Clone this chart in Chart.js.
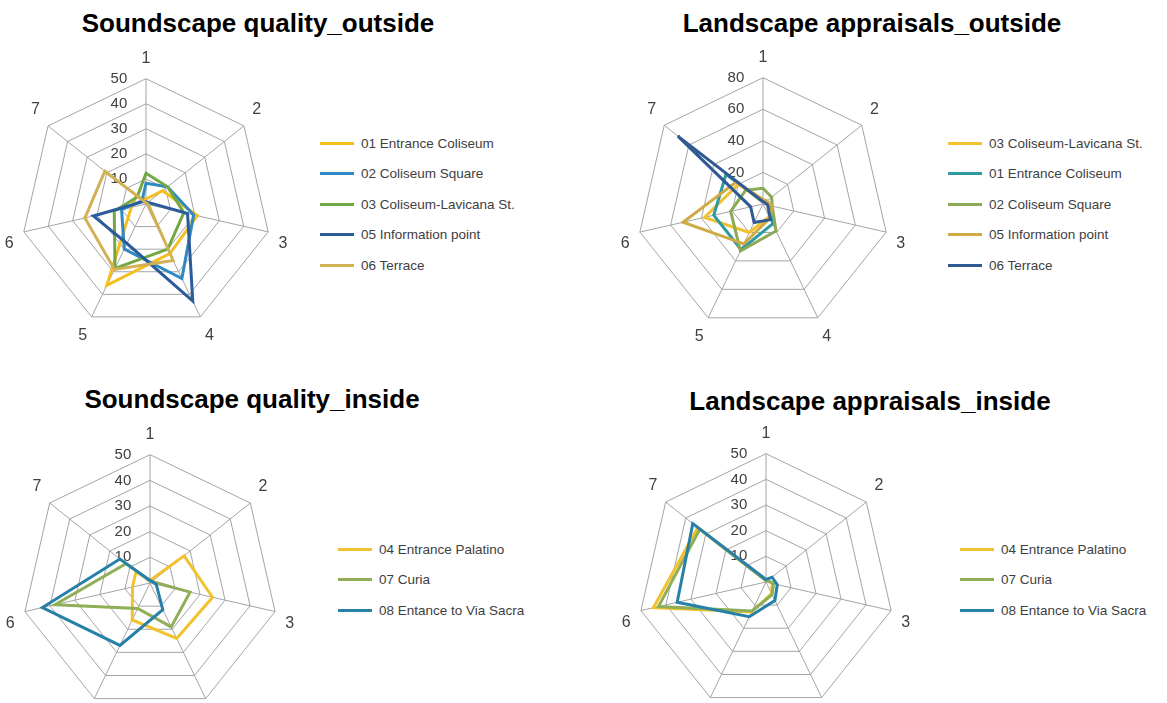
<!DOCTYPE html>
<html>
<head>
<meta charset="utf-8">
<script src="https://cdn.jsdelivr.net/npm/chart.js@4.4.1/dist/chart.umd.min.js"></script>
<style>
  html, body { margin: 0; padding: 0; background: #fff; }
  body { width: 1167px; height: 703px; position: relative; overflow: hidden; font-family: "Liberation Sans", Arial, sans-serif; }
  .title { position: absolute; font-weight: bold; font-size: 26px; color: #000; white-space: nowrap; transform: translateX(-50%); }
  .chart { position: absolute; }
  .legend { position: absolute; font-size: 13.5px; color: #404040; }
  .legend .item { position: absolute; white-space: nowrap; display: flex; align-items: center; height: 20px; }
  .legend .swatch { display: inline-block; width: 34px; height: 3px; margin-right: 7px; }
</style>
</head>
<body>

<div class="title" style="left:258px; top:8px;">Soundscape quality_outside</div>
<div class="title" style="left:872px; top:8px;">Landscape appraisals_outside</div>
<div class="title" style="left:252px; top:384px;">Soundscape quality_inside</div>
<div class="title" style="left:870px; top:386px;">Landscape appraisals_inside</div>

<canvas id="sqOut" class="chart" width="310" height="310" style="left:-8.5px; top:42.5px;"></canvas>
<canvas id="laOut" class="chart" width="312" height="312" style="left:608px; top:42px;"></canvas>
<canvas id="sqIn" class="chart" width="316" height="316" style="left:-8.5px; top:418px;"></canvas>
<canvas id="laIn" class="chart" width="316" height="316" style="left:608px; top:417px;"></canvas>

<div id="legSqOut" class="legend" style="left:320px; top:133px;"></div>
<div id="legLaOut" class="legend" style="left:948px; top:133px;"></div>
<div id="legSqIn" class="legend" style="left:338px; top:539px;"></div>
<div id="legLaIn" class="legend" style="left:960px; top:539px;"></div>

<script>
const axisLabels = ['1', '2', '3', '4', '5', '6', '7'];

// Soundscape quality_outside
const sqOutNames = ['01 Entrance Coliseum', '02 Coliseum Square', '03 Coliseum-Lavicana St.', '05 Information point', '06 Terrace'];
const sqOutEntranceColiseum = [2, 8.5, 21, 22, 36, 6, 5];
const sqOutColiseumSquare = [8.3, 11, 19.5, 33, 20, 10, 2];
const sqOutLavicana = [12.3, 11, 15.5, 20, 28.5, 13, 4.5];
const sqOutInfoPoint = [1, 1, 17, 43, 17.5, 21.5, 1.5];
const sqOutTerrace = [0.5, 0.5, 1, 25, 29, 25, 21];
const sqOutColors = ['#F4BE1E', '#2F8AC4', '#72A843', '#2A5C9C', '#D2B154'];

// Landscape appraisals_outside
const laOutNames = ['03 Coliseum-Lavicana St.', '01 Entrance Coliseum', '02 Coliseum Square', '05 Information point', '06 Terrace'];
const laOutLavicana = [2, 2, 4, 9, 20, 38, 20];
const laOutEntranceColiseum = [2, 3, 5, 14, 32, 32, 30];
const laOutColiseumSquare = [10, 7, 6, 19, 33, 21, 14];
const laOutInfoPoint = [3, 3, 6, 10, 28, 52, 22];
const laOutTerrace = [1.5, 1.5, 3, 11, 13, 8, 69];
const laOutColors = ['#F2C12E', '#2E9AA3', '#8BAA55', '#CFAA45', '#2F5A94'];

// Soundscape quality_inside
const sqInNames = ['04 Entrance Palatino', '07 Curia', '08 Entance to Via Sacra'];
const sqInPalatino = [1, 17, 25, 24, 16, 7, 7];
const sqInCuria = [1, 1, 16, 19, 11, 38, 12];
const sqInViaSacra = [1, 1, 2.5, 11.5, 27, 43, 15];

// Landscape appraisals_inside
const laInNames = ['04 Entrance Palatino', '07 Curia', '08 Entance to Via Sacra'];
const laInPalatino = [0.5, 1, 2.5, 5, 13, 45, 34];
const laInCuria = [0.5, 1, 3, 5.5, 12.5, 43, 33];
const laInViaSacra = [1, 3, 4.5, 8, 15, 35.5, 36.5];
const insideColors = ['#F2C12E', '#8FAE57', '#2680A8'];

const FONT = 'Liberation Sans';

function makeRadar(id, names, series, colors, max, step) {
  const n = series.length;
  const datasets = series.map((data, i) => ({
    label: names[i],
    data,
    borderColor: colors[i],
    backgroundColor: colors[i],
    borderWidth: 3,
    fill: false,
    pointRadius: 0,
    order: n - i, // later series on top, as in the original
  }));
  return new Chart(document.getElementById(id), {
    type: 'radar',
    data: { labels: axisLabels, datasets },
    options: {
      responsive: false,
      animation: false,
      devicePixelRatio: 1,
      plugins: { legend: { display: false }, tooltip: { enabled: false } },
      scales: {
        r: {
          min: 0,
          max,
          beginAtZero: true,
          ticks: {
            stepSize: step,
            color: '#404040',
            font: { family: FONT, size: 15 },
            showLabelBackdrop: false,
            // trailing spaces push the centred text to the left of the axis
            callback: (v) => String(v) + ' '.repeat(String(v).length === 1 ? 11 : 13),
          },
          grid: { color: '#A4A4A4', lineWidth: 1 },
          angleLines: { color: '#A4A4A4', lineWidth: 1 },
          pointLabels: { color: '#404040', font: { family: FONT, size: 16 }, padding: 1 },
        },
      },
    },
  });
}

function makeLegend(id, names, colors) {
  const box = document.getElementById(id);
  names.forEach((name, i) => {
    const item = document.createElement('div');
    item.className = 'item';
    item.style.top = (i * 30.5) + 'px';
    const sw = document.createElement('span');
    sw.className = 'swatch';
    sw.style.background = colors[i];
    item.appendChild(sw);
    item.appendChild(document.createTextNode(name));
    box.appendChild(item);
  });
}

makeRadar('sqOut', sqOutNames,
  [sqOutEntranceColiseum, sqOutColiseumSquare, sqOutLavicana, sqOutInfoPoint, sqOutTerrace], sqOutColors, 50, 10);
makeRadar('laOut', laOutNames,
  [laOutLavicana, laOutEntranceColiseum, laOutColiseumSquare, laOutInfoPoint, laOutTerrace], laOutColors, 80, 20);
makeRadar('sqIn', sqInNames, [sqInPalatino, sqInCuria, sqInViaSacra], insideColors, 50, 10);
makeRadar('laIn', laInNames, [laInPalatino, laInCuria, laInViaSacra], insideColors, 50, 10);

makeLegend('legSqOut', sqOutNames, sqOutColors);
makeLegend('legLaOut', laOutNames, laOutColors);
makeLegend('legSqIn', sqInNames, insideColors);
makeLegend('legLaIn', laInNames, insideColors);
</script>
</body>
</html>
